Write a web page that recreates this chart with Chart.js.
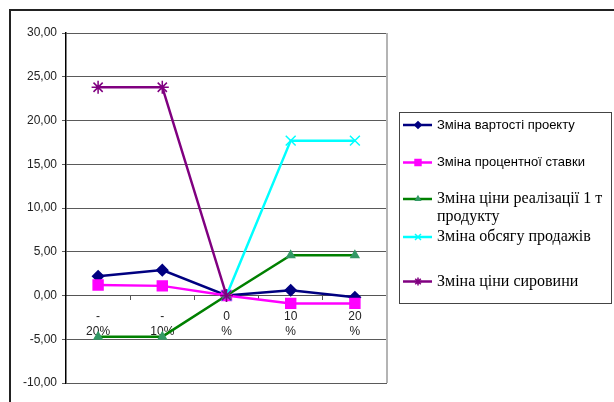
<!DOCTYPE html>
<html>
<head>
<meta charset="utf-8">
<script src="https://cdn.jsdelivr.net/npm/chart.js@4.4.0/dist/chart.umd.min.js"></script>
<style>
    html, body { margin: 0; padding: 0; background: #fff; }
    #wrap { position: relative; width: 614px; height: 402px; }
</style>
</head>
<body>
<div id="wrap"><canvas id="sensChart" width="614" height="402"></canvas></div>
<script>
const categories = [["-", "20%"], ["-", "10%"], ["0", "%"], ["10", "%"], ["20", "%"]];
const yTicks = [-10, -5, 0, 5, 10, 15, 20, 25, 30];

const vartistProektu = [2.2, 2.9, 0, 0.6, -0.2];
const protsentnaStavka = [1.2, 1.1, 0, -0.9, -0.9];
const tsinaRealizatsii = [-4.7, -4.7, 0, 4.6, 4.6];
const obsyagProdazhiv = [null, null, 0, 17.7, 17.7];
const tsinaSyrovyny = [23.8, 23.8, 0, null, null];

const seriesNames = [
    "Зміна вартості проекту",
    "Зміна процентної ставки",
    "Зміна ціни реалізації 1 т продукту",
    "Зміна обсягу продажів",
    "Зміна ціни сировини"
];

const fmt = v => Number(v).toFixed(2).replace(".", ",");

const sansFont = "13px 'Liberation Sans', Arial, sans-serif";
const serifFont = "16px 'Liberation Serif', 'Times New Roman', serif";

// legend rows: dataset index, text lines, y of first line, font
const legendRows = [
    { ds: 0, lines: ["Зміна вартості проекту"], y: 125, font: sansFont },
    { ds: 1, lines: ["Зміна процентної ставки"], y: 162.5, font: sansFont },
    { ds: 2, lines: ["Зміна ціни реалізації 1 т", "продукту"], y: 199, font: serifFont },
    { ds: 3, lines: ["Зміна обсягу продажів"], y: 237, font: serifFont },
    { ds: 4, lines: ["Зміна ціни сировини"], y: 281.5, font: serifFont }
];

const framePlugin = {
    id: "frame",
    beforeDraw(chart) {
        const ctx = chart.ctx;
        ctx.save();
        ctx.fillStyle = "#fff";
        ctx.fillRect(0, 0, chart.width, chart.height);
        ctx.strokeStyle = "#222";
        ctx.lineWidth = 2;
        ctx.beginPath();
        ctx.moveTo(10, chart.height);
        ctx.lineTo(10, 10);
        ctx.lineTo(chart.width, 10);
        ctx.stroke();
        ctx.restore();
    },
    afterDatasetsDraw(chart) {
        const ctx = chart.ctx;
        const a = chart.chartArea;
        ctx.save();
        ctx.strokeStyle = "#b4b4b4";
        ctx.lineWidth = 2;
        ctx.beginPath();
        ctx.moveTo(a.right, a.top);
        ctx.lineTo(a.right, a.bottom);
        ctx.stroke();
        ctx.restore();
    }
};

const legendPlugin = {
    id: "sideLegend",
    afterDraw(chart) {
        const ctx = chart.ctx;
        ctx.save();
        ctx.strokeStyle = "#444";
        ctx.lineWidth = 1;
        ctx.strokeRect(399.5, 112.5, 212, 191);
        legendRows.forEach(row => {
            const ds = chart.data.datasets[row.ds];
            ctx.strokeStyle = ds.borderColor;
            ctx.lineWidth = 2.5;
            ctx.beginPath();
            ctx.moveTo(403, row.y);
            ctx.lineTo(432, row.y);
            ctx.stroke();
            ctx.fillStyle = ds.pointBackgroundColor;
            ctx.strokeStyle = ds.pointBorderColor;
            ctx.lineWidth = 1.5;
            Chart.helpers.drawPoint(ctx, {
                pointStyle: ds.pointStyle,
                radius: ds.pointRadius * 0.6,
                borderWidth: 1.5,
                rotation: 0
            }, 418, row.y);
            ctx.fillStyle = "#000";
            ctx.font = row.font;
            ctx.textBaseline = "middle";
            ctx.textAlign = "left";
            row.lines.forEach((line, i) => ctx.fillText(line, 437, row.y + i * 17.7));
        });
        ctx.restore();
    }
};

const mk = (i, data, color, marker, markerColor, radius) => ({
    label: seriesNames[i],
    data: data,
    borderColor: color,
    backgroundColor: markerColor,
    pointBackgroundColor: markerColor,
    pointBorderColor: markerColor,
    pointStyle: marker,
    pointRadius: radius,
    pointBorderWidth: 1.5,
    borderWidth: 2.5,
    tension: 0,
    spanGaps: false,
    order: 4 - i
});

new Chart(document.getElementById("sensChart"), {
    type: "line",
    data: {
        labels: categories,
        datasets: [
            mk(0, vartistProektu, "#000080", "rectRot", "#000080", 5.5),
            mk(1, protsentnaStavka, "#ff00ff", "rect", "#ff00ff", 7),
            mk(2, tsinaRealizatsii, "#008000", "triangle", "#339966", 4.5),
            mk(3, obsyagProdazhiv, "#00ffff", "crossRot", "#00ffff", 7),
            mk(4, tsinaSyrovyny, "#800080", "star", "#800080", 6.5)
        ]
    },
    options: {
        responsive: false,
        animation: false,
        layout: {
            padding: { left: 0, top: 33, right: 227, bottom: 19 }
        },
        plugins: {
            legend: { display: false },
            tooltip: { enabled: false }
        },
        scales: {
            x: {
                type: "category",
                position: { y: 0 },
                offset: true,
                grid: {
                    offset: true,
                    drawOnChartArea: false,
                    tickLength: 4,
                    color: "#555"
                },
                border: { display: true, color: "#555", width: 1 },
                ticks: {
                    padding: 10,
                    maxRotation: 0,
                    autoSkip: false,
                    color: "#222",
                    font: { family: "'Liberation Sans', Arial, sans-serif", size: 12, lineHeight: 1.25 }
                }
            },
            y: {
                min: -10,
                max: 30,
                afterFit: scale => { scale.width = 66; },
                afterBuildTicks: scale => { scale.ticks = yTicks.map(v => ({ value: v })); },
                grid: {
                    color: "#5a5a5a",
                    lineWidth: 1,
                    tickLength: 4
                },
                border: { display: true, color: "#000", width: 1.5 },
                ticks: {
                    padding: 5,
                    color: "#222",
                    font: { family: "'Liberation Sans', Arial, sans-serif", size: 12 },
                    callback: v => fmt(v)
                }
            }
        }
    },
    plugins: [framePlugin, legendPlugin]
});
</script>
</body>
</html>
